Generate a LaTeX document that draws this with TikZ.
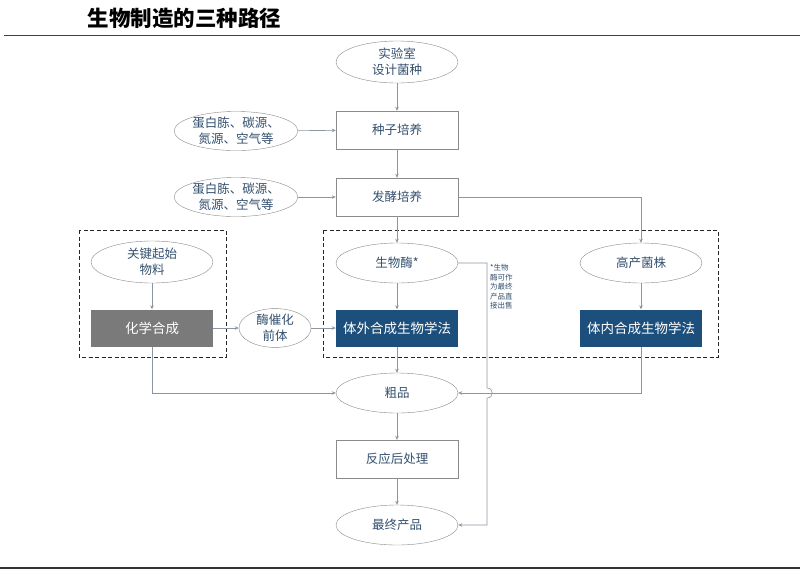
\documentclass[tikz,border=0pt]{standalone}
\usepackage{fontspec}
\setmainfont{Noto Sans CJK SC}
\usetikzlibrary{shapes.geometric,arrows.meta}
\definecolor{txt}{HTML}{34506E}
\definecolor{edge}{HTML}{8A8A8A}
\definecolor{line}{HTML}{8C96A0}
\definecolor{chemgray}{HTML}{7A7A7A}
\definecolor{synblue}{HTML}{1C4F7C}

\begin{document}
\begin{tikzpicture}[x=1pt,y=-1pt,
  every node/.style={font=\fontsize{12.5}{16}\selectfont,text=txt},
  oval/.style={ellipse,draw=edge,fill=white,minimum width=122,minimum height=40,inner sep=0pt,align=center},
  box/.style={rectangle,draw=edge,fill=white,minimum width=122,minimum height=38,inner sep=0pt},
  solidbox/.style={rectangle,fill=#1,minimum width=122,minimum height=37,inner sep=0pt,
    text=white,font=\fontsize{13.5}{16}\selectfont},
  link/.style={draw=line,line width=0.6pt,-{Stealth[length=4pt,width=3.5pt]}},
  frame/.style={draw=black!85,dashed,dash pattern=on 4pt off 2.5pt,line width=1pt}]
\useasboundingbox[fill=white] (0,0) rectangle (800,574);

\node[anchor=west,text=black,font=\fontsize{21.5}{24}\selectfont\bfseries] (title) at (84,18) {生物制造的三种路径};
\draw[black!75,line width=1pt] (4,35) -- (800,35);
\draw[black!80,line width=1.4pt] (0,568) -- (800,568);

\draw[frame] (79,230) rectangle (226,357);
\draw[frame] (323,230) rectangle (718,357);

\node[oval,minimum height=42] (lab) at (397,62) {实验室\\设计菌种};
\node[box] (seed) at (397,130) {种子培养};
\node[box] (ferm) at (397,197) {发酵培养};
\foreach \n/\y in {feed1/131,feed2/197}
  \node[oval,minimum height=38] (\n) at (236,\y) {蛋白胨、碳源、\\氮源、空气等};

\node[oval,minimum height=42] (start) at (152,262) {关键起始\\物料};
\node[solidbox=chemgray] (chem) at (152,328) {化学合成};
\node[oval,minimum width=72,minimum height=38] (prec) at (275,328) {酶催化\\前体};

\node[oval] (enz) at (397,263) {生物酶*};
\node[solidbox=synblue] (vitro) at (397,328) {体外合成生物学法};
\node[oval] (strain) at (641,263) {高产菌株};
\node[solidbox=synblue] (vivo) at (641,328) {体内合成生物学法};
\node[anchor=north west,align=left,inner sep=0pt,font=\fontsize{7.5}{9.5}\selectfont] (note) at (490,264)
  {*生物\\酶可作\\为最终\\产品直\\接出售};

\node[oval] (crude) at (397,393) {粗品};
\node[box] (post) at (397,459) {反应后处理};
\node[oval] (final) at (397,525) {最终产品};

\coordinate (hopA) at (487,388);
\coordinate (hopB) at (487,398);

\draw[link] (lab) -- (seed);
\draw[link] (seed) -- (ferm);
\draw[link] (feed1) -- (seed);
\draw[link] (feed2) -- (ferm);
\draw[link] (ferm) -- (enz);
\draw[link] (ferm.east) -| (strain.north);
\draw[link] (start) -- (chem);
\draw[link] (chem) -- (prec);
\draw[link] (prec) -- (vitro);
\draw[link] (enz) -- (vitro);
\draw[link] (strain) -- (vivo);
\draw[link] (chem.south) |- (crude.west);
\draw[link] (vitro) -- (crude);
\draw[link] (vivo.south) |- (crude.east);
\draw[link] (enz.east) -- (enz.east -| hopA) -- (hopA)
  .. controls (494,388) and (494,398) .. (hopB) |- (final.east);
\draw[link] (crude) -- (post);
\draw[link] (post) -- (final);
\end{tikzpicture}
\end{document}
